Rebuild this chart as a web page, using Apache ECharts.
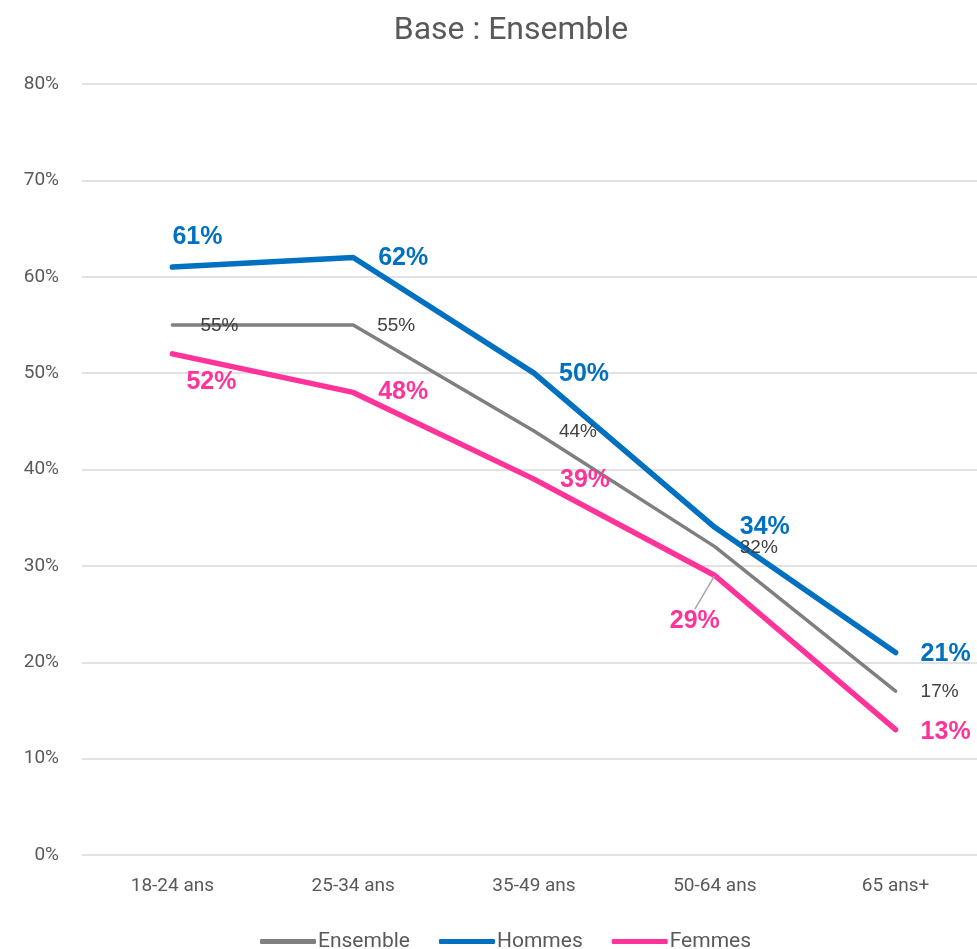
<!DOCTYPE html>
<html><head><meta charset="utf-8">
<script src="https://cdn.jsdelivr.net/npm/echarts@6/dist/echarts.min.js"></script>
<style>html,body{margin:0;padding:0;background:#fff}#c{width:977px;height:949px}</style>
</head><body><div id="c"></div>
<script>
const categories = ['18-24 ans', '25-34 ans', '35-49 ans', '50-64 ans', '65 ans+'];
const ensemble = [55, 55, 44, 32, 17];
const hommes = [61, 62, 50, 34, 21];
const femmes = [52, 48, 39, 29, 13];
const yTicks = [0, 10, 20, 30, 40, 50, 60, 70, 80];

// label offsets (centre of text relative to point), layout only
const offE = [[47, 1], [43, 1], [44, 1], [44, 1], [44, 1]];
const offH = [[25, -30], [50, 1], [50, 1], [50, 0], [50, 1]];
const offF = [[39, 28], [50, 0], [51, 1], [-20, 46], [50, 2]];
const leaderF = [false, false, false, true, false];

const narrow = "'Liberation Sans Narrow', 'Roboto', sans-serif";
const chart = echarts.init(document.getElementById('c'));

function mkSeries(name, data, color, width, off, lblStyle, leader) {
  return {
    name, type: 'line',
    data: data.map((v, i) => ({ value: v, labelLine: { show: !!(leader && leader[i]) } })),
    symbol: 'circle', symbolSize: 1,
    itemStyle: { color },
    lineStyle: { color, width, cap: 'round', join: 'round' },
    label: Object.assign({ show: true, position: 'inside', formatter: '{c}%', fontFamily: "'Liberation Sans', Arial, sans-serif" }, lblStyle),
    labelLayout: function (p) {
      const o = off[p.dataIndex];
      return { dx: o[0], dy: o[1] };
    },
    labelLine: { show: false, lineStyle: { color: '#a6a6a6', width: 1.5 } },
    emphasis: { disabled: true },
    z: width > 3 ? 3 : 2
  };
}

chart.setOption({
  animation: false,
  title: {
    text: 'Base : Ensemble', left: 506, top: 10, textAlign: 'center',
    textStyle: { fontFamily: narrow, fontSize: 32, fontWeight: 'normal', color: '#595959' }
  },
  grid: { left: 82, width: 904, top: 84, bottom: 94, containLabel: false, outerBoundsMode: 'none' },
  xAxis: {
    type: 'category', data: categories, boundaryGap: true,
    axisLine: { show: false }, axisTick: { show: false },
    axisLabel: { fontFamily: narrow, fontSize: 19, color: '#595959', margin: 22 }
  },
  yAxis: {
    type: 'value', min: yTicks[0], max: yTicks[yTicks.length - 1], interval: 10,
    axisLine: { show: false }, axisTick: { show: false },
    splitLine: { lineStyle: { color: '#d9d9d9', width: 1.5 } },
    axisLabel: { formatter: '{value}%', fontFamily: narrow, fontSize: 19, color: '#595959', margin: 23 }
  },
  legend: {
    bottom: -8, left: 255, itemWidth: 56, itemHeight: 5, itemGap: 29, icon: 'roundRect',
    textStyle: { fontFamily: narrow, fontSize: 21, color: '#595959', padding: [0, 0, 0, -3] },
    data: ['Ensemble', 'Hommes', 'Femmes']
  },
  series: [
    mkSeries('Ensemble', ensemble, '#7f7f7f', 3.5, offE, { fontSize: 19, color: '#404040' }),
    mkSeries('Hommes', hommes, '#0070c0', 5.5, offH, { fontSize: 25, fontWeight: 'bold', color: '#0070c0' }),
    mkSeries('Femmes', femmes, '#ff3399', 5.5, offF, { fontSize: 25, fontWeight: 'bold', color: '#ff3399' }, leaderF)
  ]
});
</script></body></html>
